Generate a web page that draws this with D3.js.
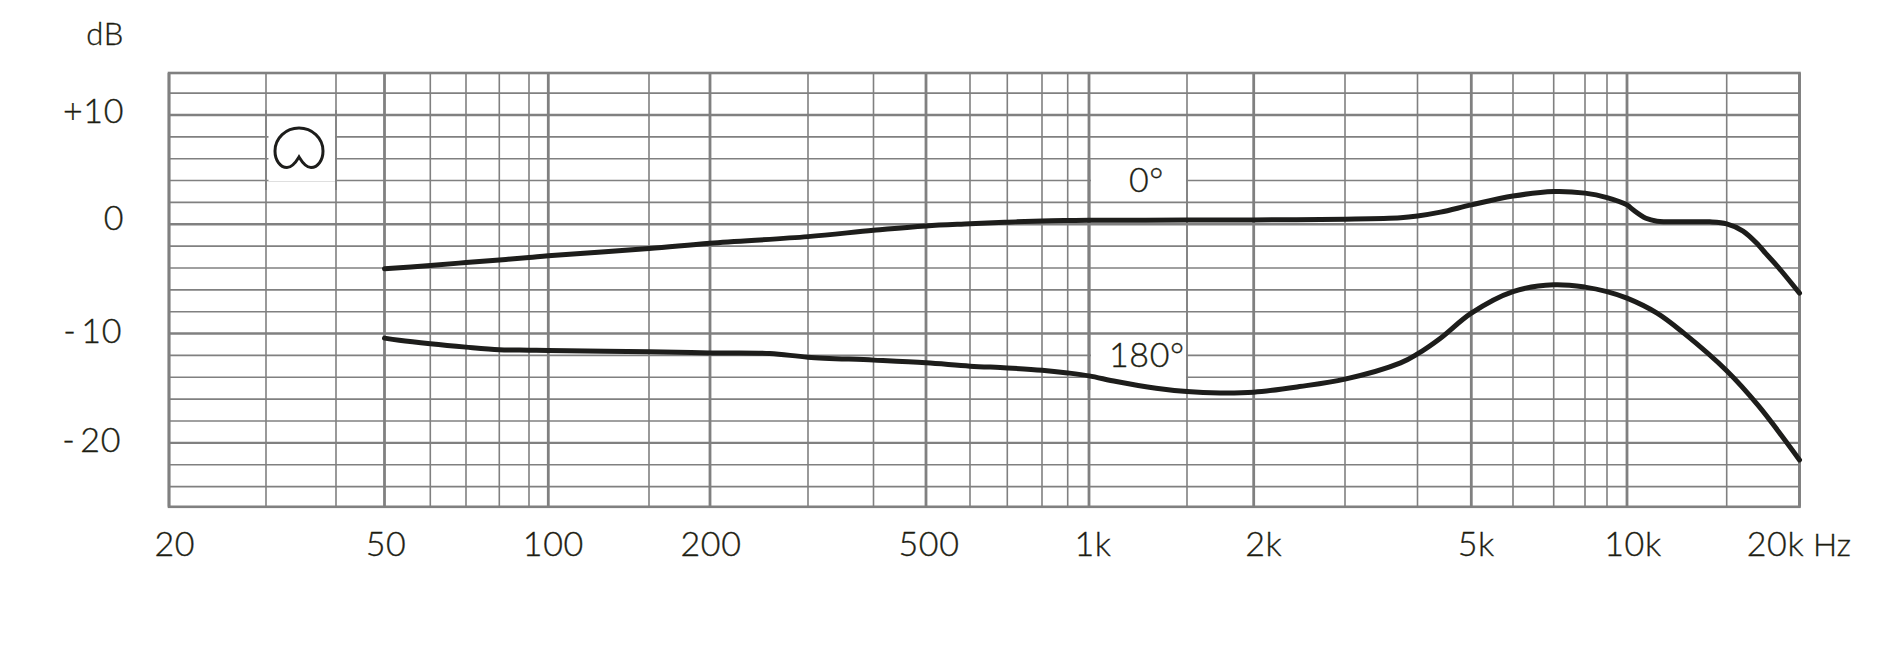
<!DOCTYPE html>
<html><head><meta charset="utf-8">
<script src="https://cdn.jsdelivr.net/npm/d3@7"></script>
<style>
html,body{margin:0;padding:0;background:#fff;overflow:hidden}
svg{display:block}
text{font-family:Lato,"Noto Sans",sans-serif;font-weight:300;fill:#1d1d12;stroke:#1d1d12;stroke-width:.35px;letter-spacing:.6px;word-spacing:-5px}
</style></head><body>
<svg id="c" width="1900" height="665"></svg>
<script>
// Frequency grid (Hz) and labels
const gridHz = [20,30,40,50,60,70,80,90,100,150,200,300,400,500,600,700,800,900,1000,1500,2000,3000,4000,5000,6000,7000,8000,9000,10000,15000,20000];
const majorHz = [20,50,100,200,500,1000,2000,5000,10000,20000];
const xTickLabels = ["20","50","100","200","500","1k","2k","5k","10k","20k"];
// dB grid and labels
const gridDb = [12,8,6,4,2,-2,-4,-6,-8,-12,-14,-16,-18,-22,-24];
const majorDb = [10,0,-10,-20];
const yTickLabels = ["+10","0","- 10","- 20"];
// Curves
const freq0 = [50,60,70,80,90,100,150,200,300,400,500,600,700,800,900,1000,1500,2000,3000,3740,4000,4400,5000,6000,7000,8000,9000,10000,10250,10800,11300,12600,14000,15000,16000,17000,17500,18300,20000];
const db0 = [-4.08,-3.78,-3.5,-3.26,-3.05,-2.89,-2.22,-1.73,-1.13,-0.55,-0.15,0.04,0.19,0.30,0.34,0.36,0.38,0.40,0.47,0.60,0.76,1.11,1.77,2.58,3.0,2.85,2.44,1.77,1.32,0.55,0.28,0.22,0.22,0.04,-0.62,-1.89,-2.66,-3.8,-6.3];
const freq180 = [50,53,60,70,80,90,100,150,200,256,300,400,500,600,700,800,900,1000,1120,1320,1500,1730,2000,2450,3000,3740,4000,4400,5000,6000,7000,8000,9000,10000,11300,12600,15000,17000,20000];
const db180 = [-10.42,-10.62,-10.94,-11.24,-11.47,-11.52,-11.56,-11.67,-11.77,-11.82,-12.16,-12.43,-12.68,-12.98,-13.14,-13.35,-13.6,-13.87,-14.39,-15.0,-15.31,-15.43,-15.36,-14.85,-14.17,-12.68,-11.86,-10.42,-8.13,-6.16,-5.54,-5.75,-6.16,-6.76,-8.13,-9.96,-13.4,-16.6,-21.56];

// Scale calibration: the printed grid is not perfectly logarithmic
const gridRange = [169,266,336,384.5,430.3,466,499.3,529,548.3,649,710,808,873.5,926,970,1007.3,1042,1067.7,1089,1187,1253.7,1345,1417.5,1471.3,1513,1553.7,1585,1607,1627,1726.7,1799.5];
const x = d3.scaleLog().domain(gridHz).range(gridRange);
const y = d3.scaleLinear().domain([13.84,-25.85]).range([73,506.8]);
const xLabelShift = {"20":5.7,"50":1.5,"100":5,"200":1,"500":3,"1k":4,"2k":10,"5k":5,"10k":6,"20k":-24};
const yLabelBase = {"+10":[124,122.7],"0":[124,230],"- 10":[122,342.7],"- 20":[121,451.7]};

const svg = d3.select("#c");
const GRID = "#808080";
const [L,R] = x.range().filter((_,i,a)=>i===0||i===a.length-1);
const [T,B] = y.range();

// horizontal grid
svg.append("g").selectAll("line").data(gridDb).join("line")
  .attr("x1",L).attr("x2",R).attr("y1",d=>y(d)).attr("y2",d=>y(d))
  .attr("stroke",GRID).attr("stroke-width",1.6);
svg.append("g").selectAll("line").data(majorDb).join("line")
  .attr("x1",L).attr("x2",R).attr("y1",d=>y(d)).attr("y2",d=>y(d))
  .attr("stroke",GRID).attr("stroke-width",2.4);
// vertical grid
svg.append("g").selectAll("line").data(gridHz.filter(d=>!majorHz.includes(d))).join("line")
  .attr("x1",d=>x(d)).attr("x2",d=>x(d)).attr("y1",T).attr("y2",B)
  .attr("stroke",GRID).attr("stroke-width",1.6);

// white patches behind annotations (hide horizontal lines only)
const patches = [[1091,165,95,35],[1091,338,95,46],[268.5,119,66.5,62]];
svg.append("g").selectAll("rect").data(patches).join("rect")
  .attr("x",d=>d[0]).attr("y",d=>d[1]).attr("width",d=>d[2]).attr("height",d=>d[3]).attr("fill","#fff");

svg.append("g").selectAll("line").data(majorHz).join("line")
  .attr("x1",d=>x(d)).attr("x2",d=>x(d)).attr("y1",T).attr("y2",B)
  .attr("stroke",GRID).attr("stroke-width",2.8);
svg.append("g").selectAll("line").data([30,40]).join("line")
  .attr("x1",d=>x(d)).attr("x2",d=>x(d)).attr("y1",110).attr("y2",190)
  .attr("stroke",GRID).attr("stroke-width",1.6);
svg.append("g").selectAll("line").data([1000,1500]).join("line")
  .attr("x1",d=>x(d)).attr("x2",d=>x(d)).attr("y1",160).attr("y2",390)
  .attr("stroke",GRID).attr("stroke-width",d=>d===1000?2.8:1.6);
// frame
svg.append("rect").attr("x",L).attr("y",T).attr("width",R-L).attr("height",B-T)
  .attr("fill","none").attr("stroke",GRID).attr("stroke-width",2.6);

// curves
const line = d3.line().x(d=>x(d[0])).y(d=>y(d[1])).curve(d3.curveCatmullRom.alpha(0.5));
[[freq0,db0],[freq180,db180]].forEach(([f,v])=>{
  svg.append("path").attr("d",line(d3.zip(f,v))).attr("fill","none")
    .attr("stroke","#1d1d1b").attr("stroke-width",5).attr("stroke-linecap","round");
});

// x labels
svg.append("g").selectAll("text").data(xTickLabels).join("text")
  .attr("x",(d,i)=>x(majorHz[i])+xLabelShift[d]).attr("y",555.7)
  .attr("text-anchor","middle").attr("font-size",34).text(d=>d);
svg.append("text").attr("x",1813).attr("y",555.7).attr("font-size",32).style("letter-spacing","0").text("Hz");
// y labels
svg.append("g").selectAll("text").data(yTickLabels).join("text")
  .attr("x",d=>yLabelBase[d][0]).attr("y",d=>yLabelBase[d][1])
  .attr("text-anchor","end").attr("font-size",34).text(d=>d);
svg.append("text").attr("x",124).attr("y",45).attr("text-anchor","end").attr("font-size",31).text("dB");
// annotations
svg.append("text").attr("x",1129).attr("y",192).attr("font-size",34).text("0°");
svg.append("text").attr("x",1109).attr("y",366.7).attr("font-size",34).text("180°");
// cardioid icon
svg.append("path").attr("transform","translate(299,148)")
  .attr("d","M0,9 C-3,14 -7,19.5 -12,19.5 C-19,19.5 -24,12 -24,3 C-24,-10 -13,-20 0,-20 C13,-20 24,-10 24,3 C24,12 19,19.5 12,19.5 C7,19.5 3,14 0,9Z")
  .attr("fill","none").attr("stroke","#1d1d1b").attr("stroke-width",3);
</script></body></html>
